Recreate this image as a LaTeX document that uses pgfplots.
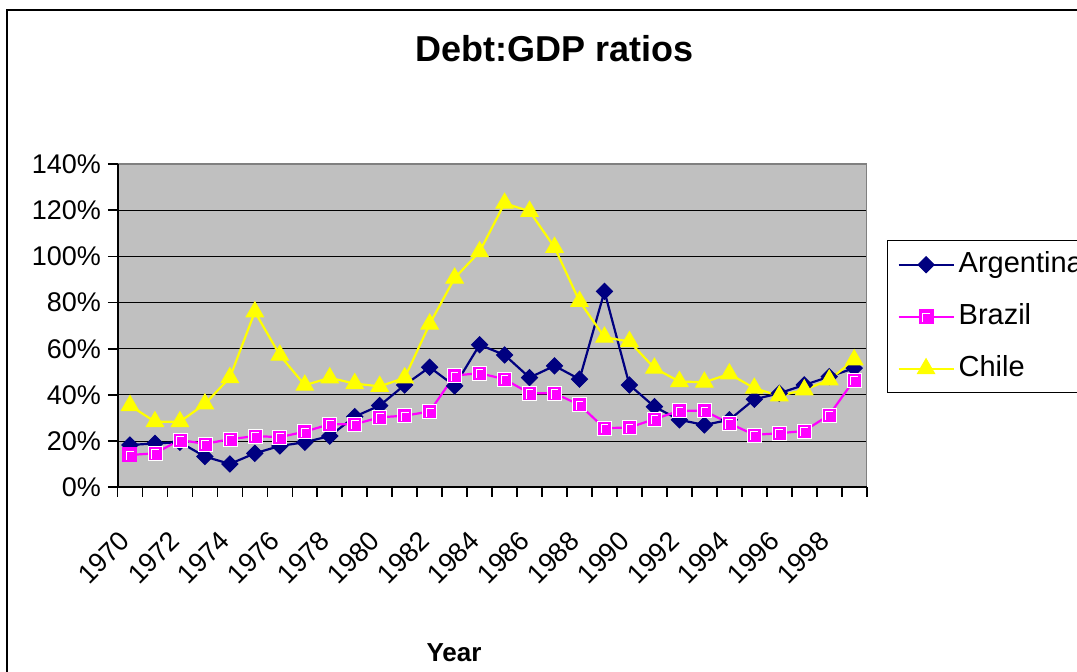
\documentclass[border=0pt]{standalone}
\usepackage{fontspec}
\setmainfont{Liberation Sans}
\usepackage{pgfplots}
\usepackage{pgfplotstable}
\pgfplotsset{compat=1.18}
\definecolor{navy}{HTML}{000080}
\definecolor{mag}{HTML}{FF00FF}
\definecolor{yel}{HTML}{FFFF00}
\definecolor{plotgray}{HTML}{C0C0C0}
\definecolor{bordergray}{HTML}{808080}

\pgfdeclareplotmark{xlsquare}{%
  \pgfpathrectangle{\pgfqpoint{-\pgfplotmarksize}{-\pgfplotmarksize}}{\pgfqpoint{2\pgfplotmarksize}{2\pgfplotmarksize}}%
  \pgfusepathqfillstroke
  \pgfsetstrokecolor{white}\pgfsetlinewidth{0.35pt}%
  \pgfpathmoveto{\pgfqpoint{-0.5\pgfplotmarksize}{-0.75\pgfplotmarksize}}%
  \pgfpathlineto{\pgfqpoint{-0.5\pgfplotmarksize}{0.5\pgfplotmarksize}}%
  \pgfpathlineto{\pgfqpoint{0.55\pgfplotmarksize}{0.5\pgfplotmarksize}}%
  \pgfusepathqstroke
}

\pgfplotstableread{
i arg bra chi
0 18.3 14.0 35.4
1 19.0 14.7 28.4
2 19.5 20.5 28.4
3 13.3 18.8 36.1
4 10.1 20.8 47.5
5 14.7 22.2 76.0
6 17.9 21.7 57.2
7 19.5 24.1 44.2
8 22.2 27.3 47.4
9 30.6 27.3 44.9
10 35.4 30.3 43.7
11 44.3 31.0 47.4
12 52.0 32.8 70.7
13 43.9 48.4 90.6
14 61.7 49.4 102.0
15 57.3 46.8 123.0
16 47.5 40.7 119.5
17 52.6 40.7 103.9
18 46.8 35.7 80.5
19 84.8 25.6 65.0
20 44.3 25.9 63.1
21 34.9 29.5 51.6
22 29.2 33.1 45.8
23 27.0 33.1 45.5
24 29.2 27.7 49.1
25 38.1 22.7 42.9
26 40.7 23.4 39.6
27 44.3 24.4 42.2
28 47.9 31.3 46.5
29 51.6 46.5 55.2
}\debt

\begin{document}
\begin{tikzpicture}
\useasboundingbox (0,0) rectangle (538.5pt,336pt);
\clip (0,0) rectangle (538.5pt,336pt);
\fill[white] (0,0) rectangle (538.5pt,336pt);
\draw[line width=0.8pt] (3.5pt,-20pt) rectangle (600pt,331pt);
\node[anchor=base, font=\bfseries\fontsize{18}{21}\selectfont] at (277.5pt,305pt) {Debt:GDP ratios};
\node[anchor=base, font=\bfseries\fontsize{13}{15}\selectfont] at (227pt,5pt) {Year};
\begin{axis}[
  at={(58.75pt,92.35pt)}, anchor=south west,
  scale only axis, width=374.6pt, height=161.65pt,
  xmin=-0.5, xmax=29.5, ymin=0, ymax=140,
  clip=false,
  axis line style={draw=none},
  axis background/.style={fill=plotgray},
  tick align=outside,
  xtick pos=left, ytick pos=left,
  major tick length=4.75pt,
  minor tick length=4.75pt,
  tick style={black, line width=0.8pt},
  xtick={0,2,...,28},
  xticklabels={1970,1972,1974,1976,1978,1980,1982,1984,1986,1988,1990,1992,1994,1996,1998},
  major x tick style={draw=none},
  minor xtick={-0.5,0.5,...,29.5},
  xticklabel style={font=\fontsize{13.5}{16}\selectfont, rotate=45, anchor=east},
  xticklabel shift=17.25pt,
  ytick={0,20,...,140},
  yticklabels={0\%,20\%,40\%,60\%,80\%,100\%,120\%,140\%},
  yticklabel style={font=\fontsize{13.5}{16}\selectfont},
  ymajorgrids,
  major grid style={black, line width=0.5pt},
  legend style={at={(1.0267,0.765)}, anchor=north west, draw=black, line width=0.75pt,
    fill=white, inner xsep=5pt, inner ysep=5pt, row sep=12pt, column sep=2pt,
    font=\fontsize{14.5}{17}\selectfont,
    nodes={inner sep=0pt, text height=11pt, text depth=3pt}},
  legend cell align=left,
  legend image code/.code={\draw[mark repeat=2,mark phase=2,#1] plot coordinates {(0pt,0pt) (13.75pt,0pt) (27.5pt,0pt)};},
]
\addplot[navy, line width=1.1pt, mark=square*, mark size=2.85pt, mark options={rotate=45, line width=0.5pt, fill=navy}] table[x=i, y=arg] {\debt};
\addlegendentry{Argentina}
\addplot[mag, line width=1.1pt, mark=xlsquare, mark size=3.5pt, mark options={line width=0.5pt, fill=mag}] table[x=i, y=bra] {\debt};
\addlegendentry{Brazil}
\addplot[yel, line width=1.1pt, mark=triangle*, mark size=5pt, mark options={line width=0.5pt, fill=yel}] table[x=i, y=chi] {\debt};
\addlegendentry{Chile}
\draw[bordergray, line width=0.75pt] (rel axis cs:0,1) -- (rel axis cs:1,1) -- (rel axis cs:1,0);
\draw[black, line width=1pt] (rel axis cs:0,1) -- (rel axis cs:0,0) -- (rel axis cs:1,0);
\end{axis}
\end{tikzpicture}
\end{document}
